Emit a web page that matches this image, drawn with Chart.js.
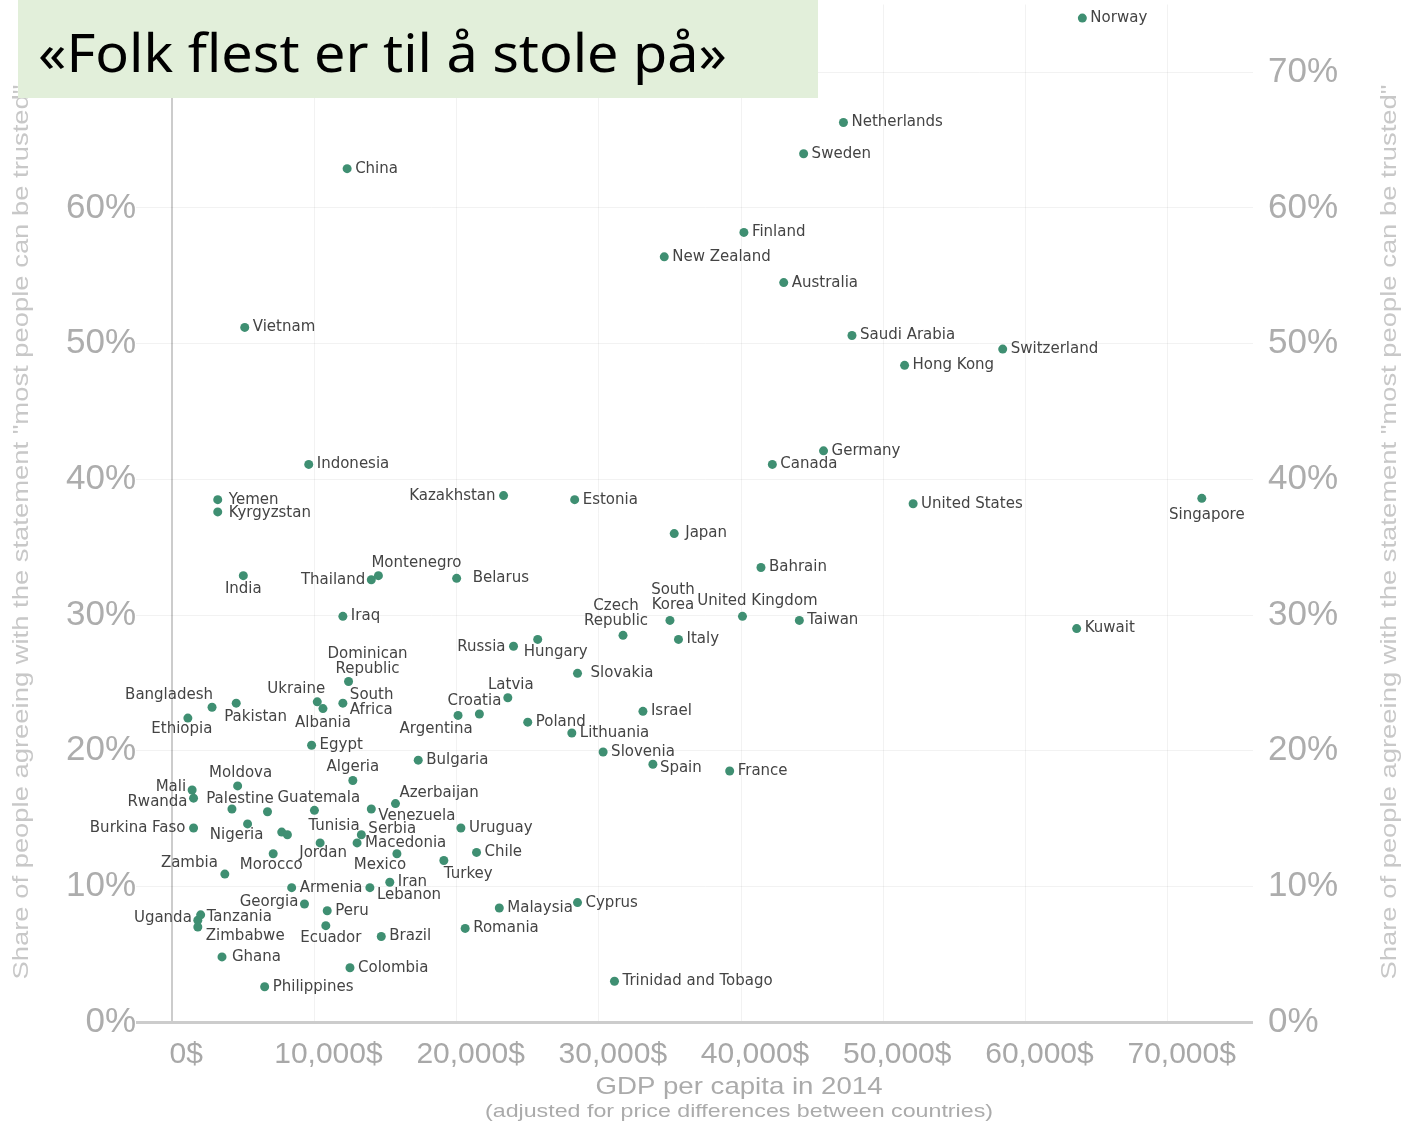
<!DOCTYPE html>
<html>
<head>
<meta charset="utf-8">
<script src="https://cdn.jsdelivr.net/npm/chart.js@4.4.1/dist/chart.umd.min.js"></script>
<style>
    html, body { margin: 0; padding: 0; background: #ffffff; }
    #wrap { width: 1406px; height: 1125px; position: relative; }
</style>
</head>
<body>
<div id="wrap"><canvas id="trust-chart" width="1406" height="1125"></canvas></div>
<script>
// Countries, GDP per capita 2014 ($, PPP) and share who say most people can be trusted (%)
const countries = [
    'Norway', 'Netherlands', 'Sweden', 'China', 'Finland', 'New Zealand', 'Australia', 'Vietnam',
    'Saudi Arabia', 'Switzerland', 'Hong Kong', 'Germany', 'Canada', 'Indonesia', 'Yemen', 'Kyrgyzstan',
    'Kazakhstan', 'Estonia', 'United States', 'Singapore', 'Japan', 'India', 'Thailand', 'Montenegro',
    'Belarus', 'Bahrain', 'Iraq', 'Czech Republic', 'South Korea', 'United Kingdom', 'Taiwan', 'Italy',
    'Kuwait', 'Russia', 'Hungary', 'Slovakia', 'Dominican Republic', 'Latvia', 'Croatia', 'Argentina',
    'Poland', 'Israel', 'Lithuania', 'Slovenia', 'Spain', 'France', 'Bulgaria', 'Bangladesh',
    'Pakistan', 'Ethiopia', 'Ukraine', 'Albania', 'South Africa', 'Egypt', 'Algeria', 'Moldova',
    'Mali', 'Rwanda', 'Palestine', 'Guatemala', 'Tunisia', 'Nigeria', 'Burkina Faso', '',
    '', 'Jordan', 'Morocco', 'Zambia', 'Azerbaijan', 'Venezuela', 'Uruguay', 'Serbia',
    'Macedonia', 'Mexico', 'Chile', 'Turkey', 'Iran', 'Lebanon', 'Armenia', 'Georgia',
    'Peru', 'Ecuador', 'Uganda', 'Tanzania', 'Zimbabwe', 'Brazil', 'Ghana', 'Colombia',
    'Philippines', 'Malaysia', 'Romania', 'Cyprus', 'Trinidad and Tobago'
];

const gdpPerCapita = [
    64000, 47200, 44400, 12300, 40200, 34600, 43000, 5100,
    47800, 58400, 51500, 45800, 42200, 9600, 3200, 3200,
    23300, 28300, 52100, 72400, 35300, 5000, 14000, 14500,
    20000, 41400, 12000, 31700, 35000, 40100, 44100, 35600,
    63600, 24000, 25700, 28500, 12400, 23600, 21600, 20100,
    25000, 33100, 28100, 30300, 33800, 39200, 17300, 2800,
    4500, 1100, 10200, 10600, 12000, 9800, 12700, 4600,
    1400, 1500, 4200, 6700, 10000, 5300, 1500, 7700,
    8100, 10400, 7100, 3700, 15700, 14000, 20300, 13300,
    13000, 15800, 21400, 19100, 15300, 13900, 8400, 9300,
    10900, 10800, 1800, 2000, 1800, 14700, 3500, 12500,
    6500, 23000, 20600, 28500, 31100
];

const trustShare = [
    74.0, 66.3, 64.0, 62.9, 58.2, 56.4, 54.5, 51.2,
    50.6, 49.6, 48.4, 42.1, 41.1, 41.1, 38.5, 37.6,
    38.8, 38.5, 38.2, 38.6, 36.0, 32.9, 32.6, 32.9,
    32.7, 33.5, 29.9, 28.5, 29.6, 29.9, 29.6, 28.2,
    29.0, 27.7, 28.2, 25.7, 25.1, 23.9, 22.7, 22.6,
    22.1, 22.9, 21.3, 19.9, 19.0, 18.5, 19.3, 23.2,
    23.5, 22.4, 23.6, 23.1, 23.5, 20.4, 17.8, 17.4,
    17.1, 16.5, 15.7, 15.5, 15.6, 14.6, 14.3, 14.0,
    13.8, 13.2, 12.4, 10.9, 16.1, 15.7, 14.3, 13.8,
    13.2, 12.4, 12.5, 11.9, 10.3, 9.9, 9.9, 8.7,
    8.2, 7.1, 7.5, 7.9, 7.0, 6.3, 4.8, 4.0,
    2.6, 8.4, 6.9, 8.8, 3.0
];

const xTickValues = [0, 10000, 20000, 30000, 40000, 50000, 60000, 70000];
const yTickValues = [0, 10, 20, 30, 40, 50, 60, 70];

const chartTitle = '«Folk flest er til å stole på»';
const xTitle = 'GDP per capita in 2014';
const xSubtitle = '(adjusted for price differences between countries)';
const yTitle = 'Share of people agreeing with the statement "most people can be trusted"';

// label placement: [dx, dy, align], default is right of the dot
const labelPos = {
    'Kazakhstan': [-8, 0, 'right'], 'Singapore': [5, 17, 'center'], 'India': [0, 13, 'center'],
    'Thailand': [-6, 0, 'right'], 'Montenegro': [-7, -13, 'left'], 'Czech Republic': [-7, -29, 'center'],
    'South Korea': [3, -30, 'center'], 'United Kingdom': [15, -15, 'center'], 'Russia': [-8, 1, 'right'],
    'Hungary': [18, 13, 'center'], 'Dominican Republic': [19, -27, 'center'], 'Latvia': [3, -13, 'center'],
    'Croatia': [-5, -13, 'center'], 'Argentina': [-22, 14, 'center'], 'Bangladesh': [1, -12, 'right'],
    'Pakistan': [-12, 14, 'left'], 'Ethiopia': [-6, 11, 'center'], 'Ukraine': [8, -13, 'right'],
    'Albania': [0, 14, 'center'], 'South Africa': [7, -8, 'left'], 'Algeria': [0, -13, 'center'],
    'Moldova': [3, -13, 'center'], 'Mali': [-6, -3, 'right'], 'Rwanda': [-6, 4, 'right'],
    'Palestine': [8, -10, 'center'], 'Guatemala': [10, -14, 'left'], 'Tunisia': [-6, 16, 'left'],
    'Nigeria': [-11, 11, 'center'], 'Burkina Faso': [-8, 0, 'right'], 'Jordan': [3, 10, 'center'],
    'Morocco': [-2, 11, 'center'], 'Zambia': [-7, -11, 'right'], 'Azerbaijan': [4, -10, 'left'],
    'Venezuela': [7, 7, 'left'], 'Serbia': [7, -6, 'left'], 'Mexico': [-17, 11, 'center'],
    'Turkey': [0, 14, 'left'], 'Lebanon': [7, 7, 'left'], 'Georgia': [-6, -2, 'right'],
    'Ecuador': [5, 12, 'center'], 'Uganda': [-6, -2, 'right'], 'Tanzania': [6, 2, 'left'],
    'Zimbabwe': [8, 9, 'left'], 'Spain': [7, 4, 'left'], 'Slovakia': [13, 0, 'left'],
    'Belarus': [16, 0, 'left'], 'Japan': [11, 0, 'left'], 'Ghana': [10, 0, 'left'],
    'Yemen': [11, 0, 'left'], 'Kyrgyzstan': [11, 1, 'left']
};

const labelLines = {
    'Czech Republic': ['Czech', 'Republic'],
    'South Korea': ['South', 'Korea'],
    'Dominican Republic': ['Dominican', 'Republic'],
    'South Africa': ['South', 'Africa']
};

document.addEventListener('DOMContentLoaded', function() {
    initializeTrustChart();
});

// draw text squeezed/stretched to a given width
function fitText(ctx, text, x, y, width, align) {
    const natural = ctx.measureText(text).width;
    const sx = width / natural;
    ctx.save();
    ctx.translate(x, y);
    ctx.scale(sx, 1);
    ctx.textAlign = align;
    ctx.fillText(text, 0, 0);
    ctx.restore();
}

const countryLabels = {
    id: 'countryLabels',
    afterDatasetsDraw(chart) {
        const ctx = chart.ctx;
        const meta = chart.getDatasetMeta(0);
        ctx.save();
        ctx.font = '15px "DejaVu Sans"';
        ctx.fillStyle = '#444444';
        ctx.textBaseline = 'middle';
        meta.data.forEach((pt, i) => {
            const name = countries[i];
            if (!name) return;
            const pos = labelPos[name] || [8, 0, 'left'];
            const lines = labelLines[name] || [name];
            ctx.textAlign = pos[2];
            lines.forEach((line, j) => {
                ctx.fillText(line, pt.x + pos[0], pt.y + pos[1] + j * 15);
            });
        });
        ctx.restore();
    },
    afterDraw(chart) {
        const ctx = chart.ctx;
        ctx.save();

        // x axis title
        ctx.fillStyle = '#ababab';
        ctx.textBaseline = 'middle';
        ctx.font = '24px "Liberation Sans"';
        fitText(ctx, xTitle, 739, 1087, 287, 'center');
        ctx.font = '19px "Liberation Sans"';
        fitText(ctx, xSubtitle, 739, 1112, 508, 'center');

        // y axis titles on both sides
        ctx.fillStyle = '#c8c8c8';
        ctx.font = '22px "Liberation Sans"';
        [22, 1390].forEach(x => {
            ctx.save();
            ctx.translate(x, 532);
            ctx.rotate(-Math.PI / 2);
            fitText(ctx, yTitle, 0, 0, 895, 'center');
            ctx.restore();
        });

        // title box
        ctx.fillStyle = '#e2efda';
        ctx.fillRect(18, 0, 800, 98);
        ctx.fillStyle = '#000000';
        ctx.textBaseline = 'alphabetic';
        ctx.font = '52px "Noto Sans"';
        fitText(ctx, chartTitle, 38, 72, 689, 'left');

        ctx.restore();
    }
};

function gridColor(c) {
    if (c.tick && c.tick.value === 0) return '#cccccc';
    return 'rgba(0, 0, 0, 0.05)';
}

// drop the label overflow padding so the plot area is where we want it
function noPadding(s) {
    s.paddingTop = 0;
    s.paddingBottom = 0;
    s.paddingLeft = 0;
    s.paddingRight = 0;
}

function initializeTrustChart() {
    const ctx = document.getElementById('trust-chart').getContext('2d');

    const points = gdpPerCapita.map((g, i) => ({ x: g, y: trustShare[i] }));

    window.trustChart = new Chart(ctx, {
        type: 'scatter',
        data: {
            datasets: [{
                label: 'Trust',
                data: points,
                backgroundColor: '#3f8f72',
                borderColor: '#3f8f72',
                borderWidth: 0,
                pointRadius: 4.5,
                pointHoverRadius: 4.5
            }]
        },
        options: {
            responsive: false,
            animation: false,
            devicePixelRatio: 1,
            layout: { padding: { top: 2, left: 0, right: 0, bottom: 0 } },
            plugins: {
                legend: { display: false },
                tooltip: { enabled: false }
            },
            scales: {
                x: {
                    type: 'linear',
                    min: -1000,
                    max: 76000,
                    afterBuildTicks: s => { s.ticks = xTickValues.map(v => ({ value: v })); },
                    afterFit: s => { s.height = 103; noPadding(s); },
                    border: { display: false },
                    grid: {
                        color: gridColor,
                        lineWidth: c => (c.tick && c.tick.value === 0 ? 2 : 1),
                        drawTicks: false
                    },
                    ticks: {
                        font: { family: 'Liberation Sans', size: 30 },
                        color: '#a8a8a8',
                        padding: 15,
                        labelOffset: 14,
                        maxRotation: 0,
                        autoSkip: false,
                        callback: v => (v === 0 ? '0$' : v.toLocaleString('en-US') + '$')
                    }
                },
                y: {
                    position: 'left',
                    min: 0,
                    max: 75,
                    afterBuildTicks: s => { s.ticks = yTickValues.map(v => ({ value: v })); },
                    afterFit: s => { s.width = 158; noPadding(s); },
                    border: { display: false },
                    grid: {
                        color: gridColor,
                        lineWidth: c => (c.tick && c.tick.value === 0 ? 3 : 1),
                        drawTicks: true,
                        tickLength: 22
                    },
                    ticks: {
                        font: { family: 'Liberation Sans', size: 35 },
                        color: '#adadad',
                        padding: 0,
                        callback: v => v + '%'
                    }
                },
                y2: {
                    position: 'right',
                    min: 0,
                    max: 75,
                    afterBuildTicks: s => { s.ticks = yTickValues.map(v => ({ value: v })); },
                    afterFit: s => { s.width = 153; noPadding(s); },
                    border: { display: false },
                    grid: { display: false, drawTicks: false },
                    ticks: {
                        font: { family: 'Liberation Sans', size: 35 },
                        color: '#adadad',
                        padding: 15,
                        callback: v => v + '%'
                    }
                }
            }
        },
        plugins: [countryLabels]
    });
}
</script>
</body>
</html>
